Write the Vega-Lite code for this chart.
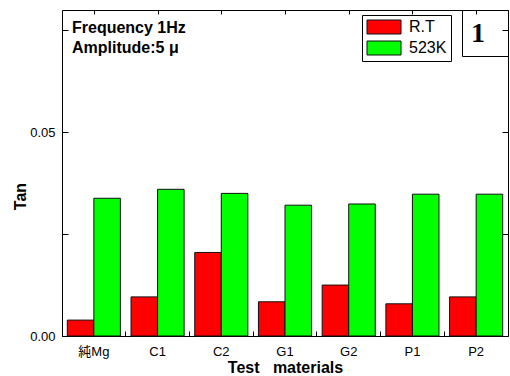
{
  "$schema": "https://vega.github.io/schema/vega-lite/v6.json",
  "width": 446,
  "height": 326,
  "autosize": {"type": "none"},
  "padding": {"left": 62, "top": 10, "right": 2, "bottom": 40},
  "background": "white",
  "config": {
    "view": {"stroke": "black", "strokeWidth": 1},
    "font": "Liberation Sans",
    "axis": {
      "grid": false,
      "domainColor": "black",
      "tickColor": "black",
      "labelColor": "black",
      "titleColor": "black",
      "labelFont": "Liberation Sans, Noto Sans CJK JP",
      "titleFont": "Liberation Sans",
      "labelFontSize": 13
    }
  },
  "datasets": {
    "tan": [
      {"material": "純Mg", "condition": "R.T", "tan": 0.0039},
      {"material": "純Mg", "condition": "523K", "tan": 0.0338},
      {"material": "C1", "condition": "R.T", "tan": 0.0096},
      {"material": "C1", "condition": "523K", "tan": 0.036},
      {"material": "C2", "condition": "R.T", "tan": 0.0205},
      {"material": "C2", "condition": "523K", "tan": 0.035},
      {"material": "G1", "condition": "R.T", "tan": 0.0084},
      {"material": "G1", "condition": "523K", "tan": 0.0321},
      {"material": "G2", "condition": "R.T", "tan": 0.0125},
      {"material": "G2", "condition": "523K", "tan": 0.0324},
      {"material": "P1", "condition": "R.T", "tan": 0.0079},
      {"material": "P1", "condition": "523K", "tan": 0.0348},
      {"material": "P2", "condition": "R.T", "tan": 0.0096},
      {"material": "P2", "condition": "523K", "tan": 0.0348}
    ]
  },
  "layer": [
    {
      "layer": [
        {
          "data": {"name": "tan"},
          "mark": {"type": "bar", "stroke": "#111", "strokeWidth": 1},
          "encoding": {
            "x": {
              "field": "material",
              "type": "nominal",
              "sort": ["純Mg", "C1", "C2", "G1", "G2", "P1", "P2"],
              "scale": {"domain": ["純Mg", "C1", "C2", "G1", "G2", "P1", "P2"], "paddingInner": 0, "paddingOuter": 0},
              "axis": {
                "orient": "bottom",
                "title": "Test\u00a0\u00a0\u00a0materials",
                "titleFontSize": 16,
                "titleFontWeight": "bold",
                "titlePadding": 1,
                "bandPosition": 0,
                "labelAngle": 0,
                "tickSize": -5,
                "labelPadding": 14
              }
            },
            "xOffset": {
              "field": "condition",
              "type": "nominal",
              "sort": ["R.T", "523K"],
              "scale": {"paddingInner": 0, "paddingOuter": 0.2}
            },
            "y": {
              "field": "tan",
              "type": "quantitative",
              "scale": {"domain": [0, 0.08], "nice": false},
              "axis": {
                "orient": "left",
                "values": [0, 0.025, 0.05, 0.075],
                "labelExpr": "datum.value == 0 || datum.value == 0.05 ? format(datum.value, '.2f') : ''",
                "tickSize": -6,
                "labelPadding": 13,
                "title": "Tan",
                "titleFontSize": 16,
                "titleFontWeight": "bold",
                "titleX": -34,
                "titleY": 186
              }
            },
            "color": {
              "field": "condition",
              "type": "nominal",
              "sort": ["R.T", "523K"],
              "scale": {"domain": ["R.T", "523K"], "range": ["#ff0000", "#00ff00"]},
              "legend": {
                "orient": "none",
                "legendX": 300,
                "legendY": 5,
                "title": null,
                "padding": 4,
                "strokeColor": "black",
                "fillColor": "white",
                "symbolType": "M-1,-1H3.86V1H-1Z",
                "symbolSize": 196,
                "symbolStrokeColor": "#111",
                "symbolStrokeWidth": 1,
                "symbolOpacity": 1,
                "labelFontSize": 16,
                "labelFont": "Liberation Sans",
                "labelColor": "black",
                "labelOffset": 27,
                "rowPadding": 3
              }
            }
          }
        },
        {
          "data": {"values": [{}]},
          "mark": {"type": "text", "align": "left", "baseline": "alphabetic", "fontSize": 16, "fontWeight": "bold", "lineHeight": 20, "dx": 10, "color": "black"},
          "encoding": {
            "x": {"datum": "純Mg", "type": "nominal", "bandPosition": 0},
            "y": {"datum": 0.0744, "type": "quantitative"},
            "text": {"value": ["Frequency 1Hz", "Amplitude:5 μ"]}
          }
        }
      ]
    },
    {
      "data": {"name": "tan"},
      "mark": {"type": "point", "opacity": 0, "color": "black"},
      "encoding": {
        "x": {
          "field": "material",
          "type": "nominal",
          "scale": {"domain": ["純Mg", "C1", "C2", "G1", "G2", "P1", "P2"], "paddingInner": 0, "paddingOuter": 0},
          "axis": {"orient": "top", "labels": false, "title": null, "bandPosition": 0, "tickSize": -4, "domain": false}
        },
        "y": {
          "field": "tan",
          "type": "quantitative",
          "scale": {"domain": [0, 0.08], "nice": false},
          "axis": {"orient": "right", "labels": false, "title": null, "values": [0.025, 0.05, 0.075], "tickSize": -6, "domain": false}
        },
        "shape": {
          "datum": "1",
          "scale": {"range": ["square"]},
          "legend": {
            "orient": "none",
            "legendX": 400,
            "legendY": 0,
            "title": null,
            "padding": 0,
            "symbolType": "square",
            "symbolSize": 2116,
            "symbolStrokeColor": "black",
            "symbolFillColor": "white",
            "symbolStrokeWidth": 1,
            "labelFontSize": 28,
            "labelFont": "Liberation Serif",
            "labelFontWeight": "bold",
            "labelColor": "black",
            "labelAlign": "center",
            "labelOffset": -31,
            "encode": {
              "symbols": {
                "update": {
                  "fill": {"value": "white"},
                  "fillOpacity": {"value": 1},
                  "stroke": {"value": "black"},
                  "strokeWidth": {"value": 1},
                  "opacity": {"value": 1}
                }
              }
            }
          }
        }
      }
    }
  ],
  "resolve": {"scale": {"x": "independent", "y": "independent"}}
}
